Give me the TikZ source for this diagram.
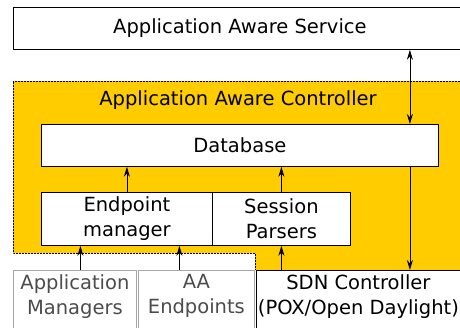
\documentclass[tikz,border=0pt]{standalone}
\usepackage{fontspec}
\setmainfont{DejaVu Sans}
\usetikzlibrary{calc,arrows.meta}
\definecolor{aayellow}{RGB}{255,204,0}
\tikzset{
  box/.style={draw,fill=white,line width=0.8pt,inner sep=0pt,align=center},
  openbox/.style={fill=white,inner sep=0pt,align=center},
}
\begin{document}
\begin{tikzpicture}[x=1pt,y=-1pt,>={Stealth[length=10pt,width=6pt]},line width=0.8pt,font=\fontsize{19.5}{25}\selectfont]
	\useasboundingbox (0,0) rectangle (460,327);
	\clip (0,0) rectangle (460,327);
	% controller area
	\fill[aayellow] (13,81) -- (470,81) -- (470,270) -- (255,270) -- (255,253) -- (13,253) -- cycle;
	\draw[densely dotted,line width=0.5pt] (470,81) -- (13,81) -- (13,253) -- (255,253) -- (255,270);
	\node at (238,100) (ctrl) {Application Aware Controller};
	% boxes
	\node[box,anchor=north west,minimum width=453pt,minimum height=42pt] (service) at (13,7) {Application Aware Service};
	\node[box,anchor=north west,minimum width=397pt,minimum height=42pt] (db) at (41,124) {Database};
	\node[box,anchor=north west,minimum width=171pt,minimum height=53pt] (em) at (41,192) {Endpoint\\manager};
	\node[box,anchor=north west,minimum width=138pt,minimum height=53pt] (sp) at (212,192) {Session\\Parsers};
	\node[openbox,text=black!70,anchor=north west,minimum width=123pt,minimum height=52pt] (am) at (13,270) {Application\\Managers};
	\node[openbox,text=black!70,anchor=north west,minimum width=116pt,minimum height=52pt] (aa) at (138,270) {AA\\Endpoints};
	\node[openbox,anchor=north west,minimum width=204pt,minimum height=52pt] (sdn) at (256,270) {SDN Controller\\(POX/Open Daylight)};
	\draw[black!35] ([yshift=-10pt]am.south west) -- (am.north west) -- (am.north east) -- ([yshift=-10pt]am.south east);
	\draw[black!35] ([yshift=-10pt]aa.south west) -- (aa.north west) -- (aa.north east) -- ([yshift=-10pt]aa.south east);
	\draw ([yshift=-10pt]sdn.south west) -- (sdn.north west) -- ([xshift=10pt]sdn.north east);
	% connectors
	\draw[->] (em.north) -- (em.north |- db.south);
	\draw[->] (sp.north) -- (sp.north |- db.south);
	\draw[<->] ([xshift=170pt]db.north) -- ([xshift=170pt]db.north |- service.south);
	\draw[->] ([xshift=170pt]db.south) -- ([xshift=170pt]db.south |- sdn.north);
	\draw[->] ([xshift=5.5pt]am.north) -- ([xshift=5.5pt]am.north |- em.south);
	\draw[->] ([xshift=-17pt]aa.north) -- ([xshift=-17pt]aa.north |- em.south);
	\draw[->] ([xshift=-77pt]sdn.north) -- ([xshift=-77pt]sdn.north |- sp.south);
\end{tikzpicture}
\end{document}
